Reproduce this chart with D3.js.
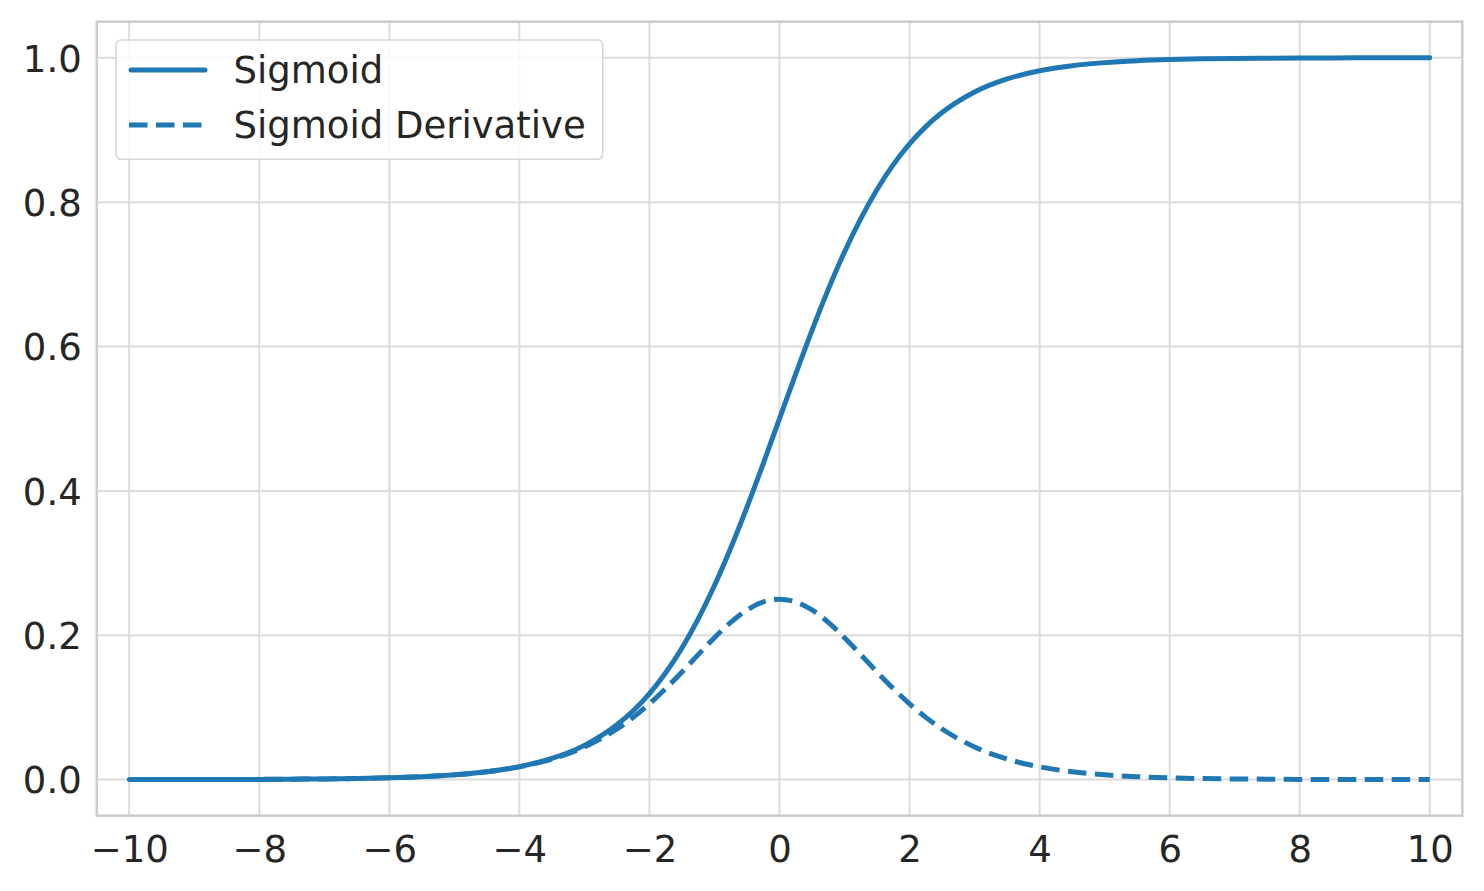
<!DOCTYPE html>
<html>
<head>
<meta charset="utf-8">
<script src="https://cdn.jsdelivr.net/npm/d3@7"></script>
<style>
  html, body { margin: 0; padding: 0; background: #ffffff; }
  svg { display: block; }
  text { font-family: "DejaVu Sans", sans-serif; fill: #262626; }
</style>
</head>
<body>
<svg id="chart" width="1484" height="891"></svg>
<script>
// ---- data ----
const xValues = [-10, -9.5, -9, -8.5, -8, -7.5, -7, -6.5, -6, -5.5, -5, -4.5, -4, -3.5, -3, -2.5,
  -2.25, -2, -1.75, -1.5, -1.25, -1, -0.75, -0.5, -0.25, 0, 0.25, 0.5, 0.75, 1, 1.25, 1.5, 1.75, 2, 2.25,
  2.5, 3, 3.5, 4, 4.5, 5, 5.5, 6, 6.5, 7, 7.5, 8, 8.5, 9, 9.5, 10];
const sigmoidValues = [0.0000, 0.0001, 0.0001, 0.0002, 0.0003, 0.0006, 0.0009, 0.0015, 0.0025, 0.0041, 0.0067, 0.0110, 0.0180, 0.0293, 0.0474, 0.0759,
  0.0953, 0.1192, 0.1480, 0.1824, 0.2227, 0.2689, 0.3208, 0.3775, 0.4378, 0.5000, 0.5622, 0.6225, 0.6792, 0.7311, 0.7773, 0.8176, 0.8520, 0.8808, 0.9047,
  0.9241, 0.9526, 0.9707, 0.9820, 0.9890, 0.9933, 0.9959, 0.9975, 0.9985, 0.9991, 0.9994, 0.9997, 0.9998, 0.9999, 0.9999, 1.0000];
const derivativeValues = [0.0000, 0.0001, 0.0001, 0.0002, 0.0003, 0.0006, 0.0009, 0.0015, 0.0025, 0.0041, 0.0066, 0.0109, 0.0177, 0.0285, 0.0452, 0.0701,
  0.0862, 0.1050, 0.1261, 0.1491, 0.1731, 0.1966, 0.2179, 0.2350, 0.2461, 0.2500, 0.2461, 0.2350, 0.2179, 0.1966, 0.1731, 0.1491, 0.1261, 0.1050, 0.0862,
  0.0701, 0.0452, 0.0285, 0.0177, 0.0109, 0.0066, 0.0041, 0.0025, 0.0015, 0.0009, 0.0006, 0.0003, 0.0002, 0.0001, 0.0001, 0.0000];
const xTicks = [-10, -8, -6, -4, -2, 0, 2, 4, 6, 8, 10];
const yTicks = [0.0, 0.2, 0.4, 0.6, 0.8, 1.0];
const seriesNames = ["Sigmoid", "Sigmoid Derivative"];

// ---- layout ----
const svg = d3.select("#chart");
const pLeft = 96.7, pRight = 1462.3, pTop = 21.7, pBottom = 815.7;
const color = "#1f77b4";
const lw = 5;

const x = d3.scaleLinear().domain([-10.5, 10.5]).range([pLeft, pRight]);
const y = d3.scaleLinear().domain([-0.05, 1.05]).range([pBottom, pTop]);

// grid
const grid = svg.append("g");
grid.selectAll("line.gx").data(xTicks).join("line").attr("class", "gx")
  .attr("x1", d => x(d)).attr("x2", d => x(d))
  .attr("y1", pTop).attr("y2", pBottom)
  .attr("stroke", "#dcdcdc").attr("stroke-width", 2);
grid.selectAll("line.gy").data(yTicks).join("line").attr("class", "gy")
  .attr("y1", d => y(d)).attr("y2", d => y(d))
  .attr("x1", pLeft).attr("x2", pRight)
  .attr("stroke", "#dcdcdc").attr("stroke-width", 2);

// axes (labels only, no tick marks)
const fmtX = d => (d < 0 ? "\u2212" + Math.abs(d) : String(d));
const xAxis = d3.axisBottom(x).tickValues(xTicks).tickFormat(fmtX).tickSize(0).tickPadding(0);
const gx = svg.append("g").attr("transform", `translate(0,${pBottom})`).call(xAxis);
gx.select(".domain").remove();
gx.selectAll("text").attr("font-size", 37).attr("font-family", "DejaVu Sans")
  .attr("fill", "#262626").attr("dy", null).attr("y", 46.5);

const yAxis = d3.axisLeft(y).tickValues(yTicks).tickFormat(d3.format(".1f")).tickSize(0).tickPadding(0);
const gy = svg.append("g").attr("transform", `translate(${pLeft},0)`).call(yAxis);
gy.select(".domain").remove();
gy.selectAll("text").attr("font-size", 37).attr("font-family", "DejaVu Sans")
  .attr("fill", "#262626").attr("dy", "0.36em").attr("x", -15);

// frame
svg.append("rect").attr("x", pLeft).attr("y", pTop)
  .attr("width", pRight - pLeft).attr("height", pBottom - pTop)
  .attr("fill", "none").attr("stroke", "#cccccc").attr("stroke-width", 2.5);

// lines
const pts = (vals) => xValues.map((xv, i) => [xv, vals[i]]);
const line = d3.line().x(d => x(d[0])).y(d => y(d[1])).curve(d3.curveMonotoneX);

svg.append("path").datum(pts(sigmoidValues)).attr("d", line)
  .attr("fill", "none").attr("stroke", color).attr("stroke-width", lw)
  .attr("stroke-linecap", "round").attr("stroke-linejoin", "round");
svg.append("path").datum(pts(derivativeValues)).attr("d", line)
  .attr("fill", "none").attr("stroke", color).attr("stroke-width", lw)
  .attr("stroke-dasharray", "18.5 8.5").attr("stroke-linecap", "butt");

// legend
const lg = svg.append("g");
lg.append("rect").attr("x", 116).attr("y", 40).attr("width", 486.7).attr("height", 119.3)
  .attr("rx", 5).attr("ry", 5)
  .attr("fill", "#ffffff").attr("fill-opacity", 0.85)
  .attr("stroke", "#d6d6d6").attr("stroke-width", 1.6);
const legendRows = [{ name: seriesNames[0], dash: null, cy: 70 }, { name: seriesNames[1], dash: "18.5 8.5", cy: 125 }];
legendRows.forEach(r => {
  const l = lg.append("line").attr("x1", r.dash ? 129 : 131).attr("x2", r.dash ? 206 : 205)
    .attr("y1", r.cy).attr("y2", r.cy)
    .attr("stroke", color).attr("stroke-width", lw)
    .attr("stroke-linecap", r.dash ? "butt" : "round");
  if (r.dash) l.attr("stroke-dasharray", r.dash);
  lg.append("text").attr("x", 233.5).attr("y", r.cy + 13.3)
    .attr("font-size", 37).text(r.name);
});
</script>
</body>
</html>
